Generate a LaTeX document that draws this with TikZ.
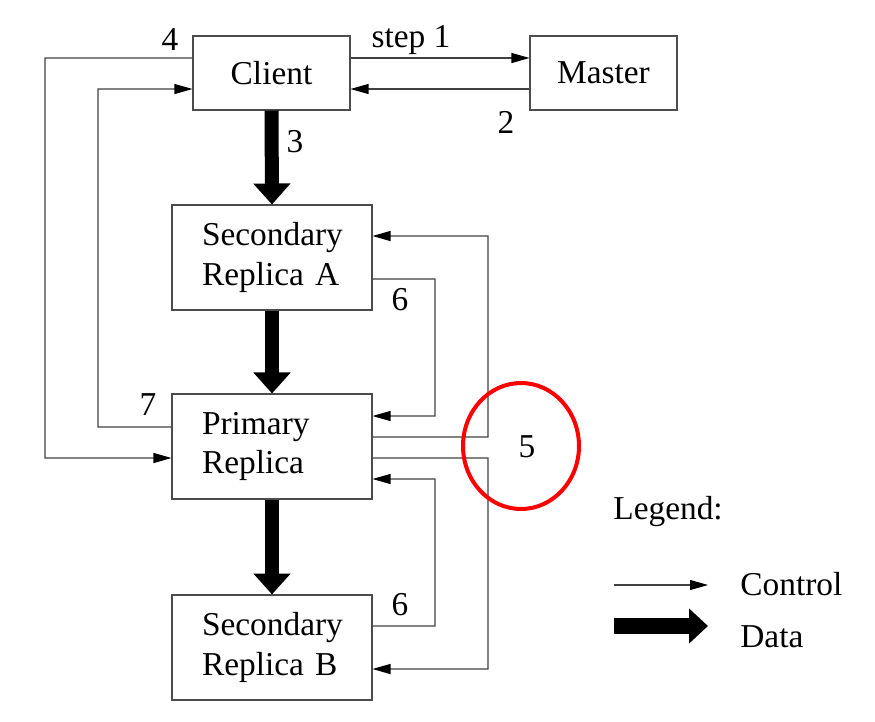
\documentclass[tikz,border=0pt]{standalone}
\usepackage{fontspec}
\setmainfont{Liberation Serif}
\usetikzlibrary{arrows.meta}
\tikzset{
	box/.style = {draw = black!70, line width = 0.6pt, align = left, inner sep = 0pt},
	replica/.style = {box, minimum width = 4cm, minimum height = 2.1cm, text width = 2.8cm},
	ctrl/.style = {draw = black!75, line width = 0.6pt, -{Triangle[length = 0.36cm, width = 0.2cm, black]}},
	data/.style = {line width = 0.28cm, -{Triangle[length = 0.42cm, width = 0.72cm]}},
	lbl/.style = {inner sep = 0pt}
}
\begin{document}
\begin{tikzpicture}[x = 0.02cm, y = -0.02cm, font = \fontsize{19}{22.5}\selectfont]
	\useasboundingbox (0,0) rectangle (875,721);
	\node [box, minimum width = 3.14cm, minimum height = 1.48cm] (client) at (271.5,73) {Client};
	\node [box, minimum width = 2.94cm, minimum height = 1.48cm] (master) at (603.5,73) {Master};
	\node [replica] (secA) at (272,257.5) {Secondary\\Replica A};
	\node [replica] (primary) at (272,446.5) {Primary\\Replica};
	\node [replica] (secB) at (272,647.5) {Secondary\\Replica B};
	\draw [ctrl] ([yshift = 0.3cm]client.east) -- ([yshift = 0.3cm]master.west);
	\draw [ctrl] ([yshift = -0.32cm]master.west) -- ([yshift = -0.32cm]client.east);
	\draw [ctrl] ([yshift = 0.3cm]client.west) -- (45,58) |- ([yshift = -0.23cm]primary.west);
	\draw [ctrl] ([yshift = 0.39cm]primary.west) -- (98,427) |- ([yshift = -0.32cm]client.west);
	\draw [ctrl] ([yshift = 0.19cm]primary.east) -- (488,437) |- ([yshift = 0.43cm]secA.east);
	\draw [ctrl] ([yshift = -0.43cm]secA.east) -- (435,279) |- ([yshift = 0.61cm]primary.east);
	\draw [ctrl] ([yshift = -0.23cm]primary.east) -- (488,458) |- ([yshift = -0.43cm]secB.east);
	\draw [ctrl] ([yshift = 0.43cm]secB.east) -- (435,626) |- ([yshift = -0.65cm]primary.east);
	\draw [data] (client.south) -- (secA.north);
	\draw [data] (secA.south) -- (primary.north);
	\draw [data] (primary.south) -- (secB.north);
	\node [lbl] (n4) at (170,40) {4};
	\node [lbl] (n1) at (411,40) {step 1};
	\node [lbl] (n2) at (506,122) {2};
	\node [lbl] (n3) at (295,142) {3};
	\node [lbl] (n6a) at (400,300) {6};
	\node [lbl] (n7) at (148,405) {7};
	\node [lbl] (n6b) at (400,605) {6};
	\node [lbl] (n5) at (527,447) {5};
	\draw [red, line width = 0.08cm] (n5) ++(-6,-1) ellipse (1.16cm and 1.26cm);
	\node [lbl, anchor = west] (legend) at (613,512) {Legend:};
	\coordinate (ctrlA) at (614,585);
	\coordinate (ctrlB) at (708,585);
	\coordinate (dataA) at (614,626);
	\coordinate (dataB) at (708,626);
	\draw [ctrl] (ctrlA) -- (ctrlB);
	\draw [line width = 0.32cm, -{Triangle[length = 0.38cm, width = 0.68cm]}] (dataA) -- (dataB);
	\node [lbl, anchor = west] (control) at (740,584) {Control};
	\node [lbl, anchor = west] (datatext) at (740,637) {Data};
\end{tikzpicture}
\end{document}
